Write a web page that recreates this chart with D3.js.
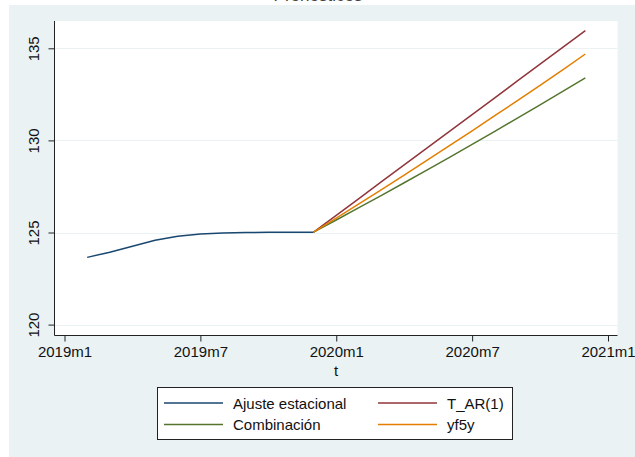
<!DOCTYPE html>
<html>
<head>
<meta charset="utf-8">
<script src="https://cdn.jsdelivr.net/npm/d3@7"></script>
<style>
  html, body { margin: 0; padding: 0; background: #ffffff; }
  svg { display: block; }
  text { font-family: "Liberation Sans", Arial, sans-serif; fill: #111; }
</style>
</head>
<body>
<svg id="chart" width="635" height="457"></svg>
<script>
// ---- data ----
const titleText = "Pronósticos";
const xTickValues = [0, 6, 12, 18, 24];
const xTickLabels = ["2019m1", "2019m7", "2020m1", "2020m7", "2021m1"];
const yTickValues = [120, 125, 130, 135];
const xTitle = "t";

// month index: 0 = 2019m1
const ajusteMonths = [1, 2, 3, 4, 5, 6, 7, 8, 9, 10, 11];
const ajusteValues = [123.65, 123.93, 124.25, 124.58, 124.80, 124.92, 124.97, 125.00, 125.01, 125.02, 125.02];

const forecastMonths = [11, 12, 13, 14, 15, 16, 17, 18, 19, 20, 21, 22, 23];
const tarValues  = [125.02, 125.93, 126.84, 127.76, 128.67, 129.58, 130.49, 131.40, 132.31, 133.23, 134.14, 135.05, 135.96];
const combValues = [125.02, 125.68, 126.35, 127.02, 127.70, 128.39, 129.08, 129.78, 130.49, 131.21, 131.93, 132.66, 133.40];
const yf5yValues = [125.02, 125.78, 126.55, 127.33, 128.12, 128.91, 129.71, 130.52, 131.34, 132.16, 132.99, 133.83, 134.69];

const seriesNames = ["Ajuste estacional", "T_AR(1)", "Combinación", "yf5y"];
const seriesColors = ["#1a476f", "#90353b", "#55752f", "#e37e00"];

// ---- layout ----
const svg = d3.select("#chart");
const plot = { left: 54.5, right: 617.5, top: 21, bottom: 335.5 };

svg.append("rect").attr("x", 9).attr("y", 5).attr("width", 640).attr("height", 460)
  .attr("fill", "#eaf2f3");

// title (cut off at the top, as in the reference)
svg.append("text").attr("x", 318).attr("y", 0.5).attr("text-anchor", "middle")
  .style("font-size", "17px").style("fill", "#444").text(titleText);

svg.append("rect").attr("x", plot.left).attr("y", plot.top)
  .attr("width", plot.right - plot.left).attr("height", plot.bottom - plot.top)
  .attr("fill", "#ffffff");

const x = d3.scaleLinear().domain([0, 24]).range([64.5, 608]);
const y = d3.scaleLinear().domain([120, 135]).range([324.6, 48.3]);

// gridlines
svg.append("g").selectAll("line").data(yTickValues).join("line")
  .attr("x1", plot.left).attr("x2", plot.right)
  .attr("y1", d => Math.round(y(d)) + 0.5).attr("y2", d => Math.round(y(d)) + 0.5)
  .attr("stroke", "#eaf2f3").attr("stroke-width", 1);

// axes
const yAxis = d3.axisLeft(y).tickValues(yTickValues).tickSize(6).tickPadding(4).tickFormat(d3.format("d"));
const gy = svg.append("g").attr("transform", `translate(${plot.left},0)`).call(yAxis);
gy.select(".domain").attr("d", `M0,${plot.top}V${plot.bottom}`).attr("stroke", "#222");
gy.selectAll(".tick line").attr("stroke", "#222");
gy.selectAll(".tick text")
  .attr("transform", "rotate(-90)")
  .attr("x", 0).attr("y", -16).attr("dy", 0)
  .attr("text-anchor", "middle")
  .style("font-size", "15px").style("font-family", "Liberation Sans, Arial, sans-serif").style("fill", "#111");

const xAxis = d3.axisBottom(x).tickValues(xTickValues).tickSize(6).tickPadding(4)
  .tickFormat((d, i) => xTickLabels[i]);
const gx = svg.append("g").attr("transform", `translate(0,${plot.bottom})`).call(xAxis);
gx.select(".domain").attr("d", `M${plot.left},0H${plot.right}`).attr("stroke", "#222");
gx.selectAll(".tick line").attr("stroke", "#222");
gx.selectAll(".tick text").attr("dy", "0.71em").attr("y", 11)
  .style("font-size", "15px").style("font-family", "Liberation Sans, Arial, sans-serif").style("fill", "#111");

svg.append("text").attr("x", (plot.left + plot.right) / 2 + 0).attr("y", 376)
  .attr("text-anchor", "middle").style("font-size", "15px").text(xTitle);

// lines
const line = d3.line().x(d => x(d[0])).y(d => y(d[1]));
const plotLine = (months, vals, color) => {
  svg.append("path").datum(months.map((m, i) => [m, vals[i]]))
    .attr("d", line).attr("fill", "none").attr("stroke", color)
    .attr("stroke-width", 1.5).attr("stroke-linejoin", "round");
};
plotLine(ajusteMonths, ajusteValues, seriesColors[0]);
plotLine(forecastMonths, tarValues, seriesColors[1]);
plotLine(forecastMonths, combValues, seriesColors[2]);
plotLine(forecastMonths, yf5yValues, seriesColors[3]);

// legend
const lg = svg.append("g");
lg.append("rect").attr("x", 157.5).attr("y", 387.5).attr("width", 355).attr("height", 52)
  .attr("fill", "#ffffff").attr("stroke", "#222").attr("stroke-width", 1);
const legendPos = [
  { lx: 164, ty: 403 }, { lx: 378, ty: 403 },
  { lx: 164, ty: 424.5 }, { lx: 378, ty: 424.5 }
];
seriesNames.forEach((name, i) => {
  const p = legendPos[i];
  lg.append("line").attr("x1", p.lx).attr("x2", p.lx + 59)
    .attr("y1", p.ty).attr("y2", p.ty)
    .attr("stroke", seriesColors[i]).attr("stroke-width", 1.5);
  lg.append("text").attr("x", p.lx + 69).attr("y", p.ty + 5.5)
    .style("font-size", "15px").text(name);
});
</script>
</body>
</html>
